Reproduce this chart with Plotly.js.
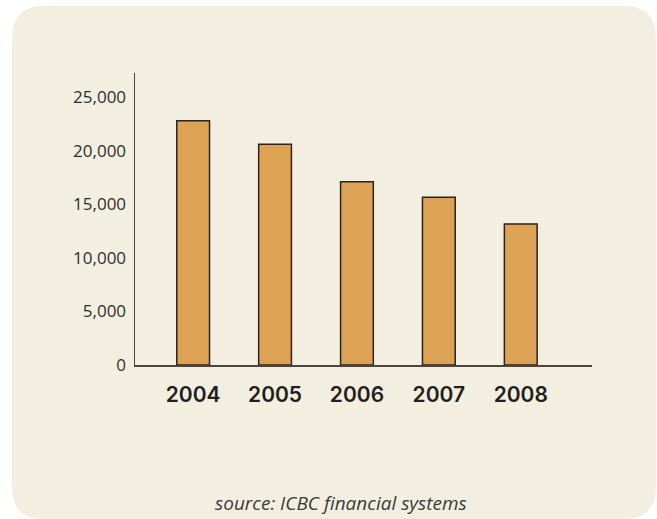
<!DOCTYPE html>
<html>
<head>
<meta charset="utf-8">
<script src="https://cdn.plot.ly/plotly-3.0.1.min.js"></script>
<style>html,body{margin:0;padding:0;background:#ffffff;}#chart{width:657px;height:519px;}</style>
</head>
<body>
<div id="chart"></div>
<script>
const years = ['2004', '2005', '2006', '2007', '2008'];
const values = [22800, 20600, 17100, 15650, 13150];
const yTicks = [0, 5000, 10000, 15000, 20000, 25000];
const sourceText = 'source: ICBC financial systems';

// layout geometry (pixels)
const W = 657, H = 519;
const M = {l: 135, r: 65, t: 73, b: 154};
const pw = W - M.l - M.r, ph = H - M.t - M.b;
const px = x => (x - M.l) / pw;
const py = y => (H - M.b - y) / ph;

// rounded background panel
function roundRect(x0, y0, x1, y1, r) {
  const P = (x, y) => px(x).toFixed(5) + ',' + py(y).toFixed(5);
  return 'M' + P(x0 + r, y0) + ' L' + P(x1 - r, y0) + ' Q' + P(x1, y0) + ' ' + P(x1, y0 + r) +
    ' L' + P(x1, y1 - r) + ' Q' + P(x1, y1) + ' ' + P(x1 - r, y1) +
    ' L' + P(x0 + r, y1) + ' Q' + P(x0, y1) + ' ' + P(x0, y1 - r) +
    ' L' + P(x0, y0 + r) + ' Q' + P(x0, y0) + ' ' + P(x0 + r, y0) + ' Z';
}

const trace = {
  type: 'bar',
  x: years.map((_, i) => i),
  y: values,
  width: 0.4,
  marker: {color: '#dda254', line: {color: '#2a2420', width: 1.5}},
  hoverinfo: 'x+y'
};

const layout = {
  width: W, height: H,
  margin: M,
  paper_bgcolor: '#ffffff',
  plot_bgcolor: 'rgba(0,0,0,0)',
  showlegend: false,
  font: {family: '"Open Sans", sans-serif', color: '#2b2b2b'},
  xaxis: {
    range: [-0.71, 4.87],
    tickvals: years.map((_, i) => i),
    ticktext: years,
    showline: true, linecolor: '#4a4540', linewidth: 1.5,
    showgrid: false, zeroline: false, ticks: '',
    tickfont: {family: 'Inter, "DejaVu Sans", sans-serif', size: 21, color: '#231f20', weight: 600},
    ticklabelstandoff: 10,
    fixedrange: true
  },
  yaxis: {
    range: [0, 27250],
    tickvals: yTicks,
    tickformat: ',',
    showline: true, linecolor: '#4a4540', linewidth: 1.5,
    showgrid: false, zeroline: false, ticks: '',
    tickfont: {family: '"Open Sans", sans-serif', size: 17, color: '#2e2e2e'},
    ticklabelstandoff: 4,
    fixedrange: true
  },
  shapes: [{
    type: 'path', xref: 'paper', yref: 'paper', layer: 'below',
    path: roundRect(12, 6, 656, 519, 32),
    fillcolor: '#f3efe0', line: {width: 0}
  }],
  annotations: [{
    xref: 'paper', yref: 'paper',
    x: px(341), y: py(503),
    text: sourceText, showarrow: false,
    xanchor: 'center', yanchor: 'middle',
    font: {family: '"Open Sans", sans-serif', size: 19, color: '#3a3a3a', style: 'italic'}
  }]
};

Plotly.newPlot('chart', [trace], layout, {displayModeBar: false, staticPlot: true});
</script>
</body>
</html>
